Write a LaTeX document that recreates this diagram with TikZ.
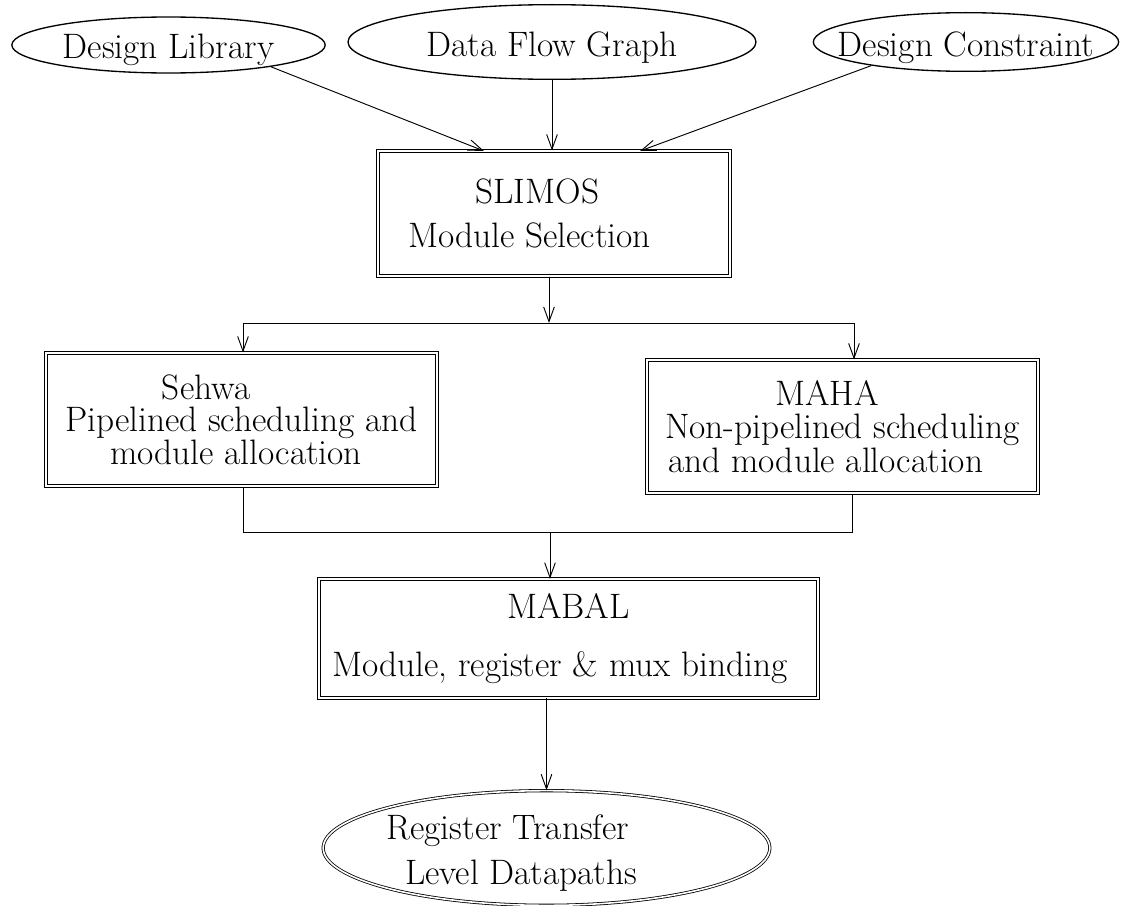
\documentclass[tikz,border=0pt]{standalone}
\usetikzlibrary{shapes.geometric,arrows.meta}

\tikzset{
  every node/.style={font=\fontsize{26.5}{33}\selectfont},
  srcnode/.style={draw, ellipse, line width=1pt, inner sep=0pt},
  boxnode/.style={draw, rectangle, double, double distance=1.4pt, line width=0.6pt, inner sep=0pt},
  endnode/.style={draw, ellipse, double, double distance=1.2pt, line width=0.6pt, inner sep=0pt},
  arr/.style={-{Straight Barb[length=11pt,width=8pt]}, line width=0.7pt},
  wire/.style={line width=0.7pt}
}

\begin{document}
\begin{tikzpicture}[x=0.75pt,y=0.75pt,yscale=-1,xscale=1]
\useasboundingbox (0,0) rectangle (1122,906);

%Shape: Ellipse [inputs]
\node[srcnode, minimum width=235pt, minimum height=42pt, label={[yshift=-4pt]center:Design Library}] (lib) at (168.5,45) {};
\node[srcnode, minimum width=306pt, minimum height=56pt, label={[yshift=-4pt]center:Data Flow Graph}] (dfg) at (552,42) {};
\node[srcnode, minimum width=229pt, minimum height=44pt, label={[yshift=-4pt]center:Design Constraint}] (dc) at (966,42) {};

%Shape: Rectangle [SLIMOS]
\node[boxnode, minimum width=264pt, minimum height=94pt, align=center] (slimos) at (554,213.5)
  {SLIMOS\hspace*{25pt}\\Module Selection\hspace*{37pt}};

%Shape: Rectangle [Sehwa / MAHA]
\node[boxnode, minimum width=293pt, minimum height=100pt, align=center, font=\fontsize{26.5}{24.5}\selectfont] (sehwa) at (241.5,419.5)
  {Sehwa\hspace*{53pt}\\Pipelined scheduling and\hspace*{12pt}\\module allocation\hspace*{8pt}};
\node[boxnode, minimum width=293pt, minimum height=100pt, align=center, font=\fontsize{26.5}{25}\selectfont] (maha) at (842.5,426.5)
  {MAHA\hspace*{23pt}\\Non-pipelined scheduling\\and module allocation\hspace*{25pt}};

%Shape: Rectangle [MABAL]
\node[boxnode, minimum width=374pt, minimum height=89pt, align=center] (mabal) at (568.5,638.5)
  {MABAL\\[10pt]Module, register \& mux binding\hspace*{13pt}};

%Shape: Ellipse [output]
\node[endnode, minimum width=335pt, minimum height=86pt,
  label={[xshift=-26pt, yshift=-4pt, align=left]center:Register Transfer\\[1pt]\hspace*{14pt}Level Datapaths}] (rtl) at (546.5,848) {};

%Coordinates
\coordinate (slimosL) at (484,151);
\coordinate (slimosR) at (640,151);
\coordinate (fork) at (549,323);
\coordinate (forkL) at (243,323);
\coordinate (forkR) at (854,323);
\coordinate (join) at (550,532);
\coordinate (joinL) at (243,532);
\coordinate (joinR) at (852,532);

%Straight Lines
\draw[arr] (lib.-12) -- (slimosL);
\draw[arr] (dfg.south) -- (dfg.south |- slimos.north);
\draw[arr] (dc.194) -- (slimosR);

\draw[arr] (slimos.south -| fork) -- (fork);
\draw[wire] (forkL) -- (forkR);
\draw[arr] (forkL) -- (forkL |- sehwa.north);
\draw[arr] (forkR) -- (forkR |- maha.north);

\draw[wire] (sehwa.south -| joinL) -- (joinL) -- (joinR) -- (maha.south -| joinR);
\draw[arr] (join) -- (join |- mabal.north);

\draw[arr] (mabal.south -| rtl.north) -- (rtl.north);

\end{tikzpicture}
\end{document}
